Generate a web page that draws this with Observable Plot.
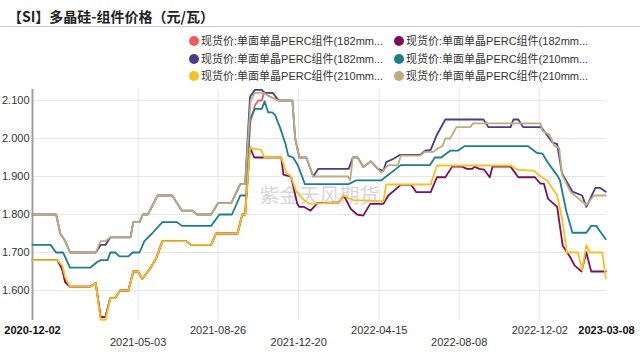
<!DOCTYPE html>
<html><head><meta charset="utf-8">
<script src="https://cdn.jsdelivr.net/npm/d3@7"></script>
<script src="https://cdn.jsdelivr.net/npm/@observablehq/plot@0.6"></script>
<style>
body{margin:0;background:#fff;font-family:"Liberation Sans",Arial,"Noto Sans CJK SC",sans-serif;}
#wrap{position:relative;width:640px;height:359px;overflow:hidden;background:#fff}
#title{position:absolute;left:8px;top:6px;font-size:14px;font-weight:bold;color:#222;font-family:"Noto Sans CJK SC","Liberation Sans",sans-serif;line-height:20px;white-space:nowrap}
#rule{position:absolute;left:0;top:26px;width:640px;height:1px;background:#ccc}
.lg{position:absolute;font-size:11px;color:#333;line-height:14px;white-space:nowrap;font-family:"Liberation Sans",Arial,"Noto Sans CJK SC",sans-serif}
.lg i{display:inline-block;width:10px;height:10px;border-radius:50%;vertical-align:-1px;margin-right:2px}
#chart{position:absolute;left:0;top:86px}
</style></head>
<body><div id="wrap"><div id="title"></div><div id="rule"></div><div id="legend"></div><div id="chart"></div></div>
<script>
const titleText = "【SI】多晶硅-组件价格（元/瓦）";
const watermark = "紫金天风期货";
const seriesNames = [
  "现货价:单面单晶PERC组件(182mm...",
  "现货价:单面单晶PERC组件(182mm...",
  "现货价:单面单晶PERC组件(182mm...",
  "现货价:单面单晶PERC组件(210mm...",
  "现货价:单面单晶PERC组件(210mm...",
  "现货价:单面单晶PERC组件(210mm..."
];
const seriesColors = ["#f05a60", "#7d0f5a", "#483d8b", "#1b7f8b", "#f8c21d", "#bcac7e"];
const tickDates = ["2020-12-02","2021-05-03","2021-08-26","2021-12-20","2022-04-15","2022-08-08","2022-12-02","2023-03-08"];
const yTicks = [1.6, 1.7, 1.8, 1.9, 2.0, 2.1];

const redSeries = [["2020-12-02",1.68],["2021-01-07",1.68],["2021-01-14",1.655],["2021-01-18",1.622],["2021-01-25",1.61],["2021-02-23",1.61],["2021-03-03",1.62],["2021-03-10",1.53],["2021-03-17",1.53],["2021-03-24",1.58],["2021-03-31",1.58],["2021-04-07",1.60],["2021-04-19",1.60],["2021-04-26",1.65],["2021-05-03",1.65],["2021-05-09",1.63],["2021-05-20",1.657],["2021-05-29",1.685],["2021-06-07",1.73],["2021-07-11",1.73],["2021-07-18",1.72],["2021-08-16",1.72],["2021-08-23",1.75],["2021-09-23",1.75],["2021-09-30",1.80],["2021-10-04",1.80],["2021-10-11",2.04],["2021-10-18",2.087],["2021-10-23",2.10],["2021-10-28",2.10],["2021-10-31",2.12],["2021-11-09",2.11],["2021-11-21",2.10]];

const maroonSeries = [["2020-12-02",1.68],["2021-01-07",1.68],["2021-01-14",1.655],["2021-01-18",1.622],["2021-01-25",1.61],["2021-02-23",1.61],["2021-03-03",1.62],["2021-03-10",1.53],["2021-03-17",1.53],["2021-03-24",1.58],["2021-03-31",1.58],["2021-04-07",1.60],["2021-04-19",1.60],["2021-04-26",1.65],["2021-05-03",1.65],["2021-05-09",1.63],["2021-05-20",1.657],["2021-05-29",1.685],["2021-06-07",1.73],["2021-07-11",1.73],["2021-07-18",1.72],["2021-08-16",1.72],["2021-08-23",1.75],["2021-09-23",1.75],["2021-09-30",1.80],["2021-10-04",1.80],["2021-10-11",1.977],["2021-10-17",1.95],["2021-11-25",1.95],["2021-11-28",1.905],["2021-12-09",1.90],["2021-12-18",1.828],["2021-12-21",1.82],["2021-12-28",1.82],["2022-01-06",1.81],["2022-01-16",1.83],["2022-02-16",1.832],["2022-02-23",1.85],["2022-03-05",1.815],["2022-03-14",1.80],["2022-03-23",1.797],["2022-04-02",1.828],["2022-04-21",1.828],["2022-04-28",1.85],["2022-05-16",1.878],["2022-05-31",1.878],["2022-06-07",1.859],["2022-06-28",1.859],["2022-07-07",1.898],["2022-07-19",1.898],["2022-07-29",1.926],["2022-08-12",1.926],["2022-08-19",1.92],["2022-08-27",1.92],["2022-08-30",1.926],["2022-09-06",1.92],["2022-09-13",1.918],["2022-09-21",1.898],["2022-09-25",1.926],["2022-10-21",1.926],["2022-11-01",1.898],["2022-11-25",1.898],["2022-12-03",1.881],["2022-12-08",1.881],["2022-12-14",1.841],["2022-12-27",1.82],["2023-01-04",1.718],["2023-01-14",1.69],["2023-01-21",1.666],["2023-01-31",1.65],["2023-02-07",1.70],["2023-02-14",1.65],["2023-03-07",1.65]];

const indigoSeries = [["2020-12-02",1.80],["2021-01-05",1.80],["2021-01-11",1.75],["2021-01-18",1.73],["2021-01-25",1.70],["2021-03-03",1.70],["2021-03-10",1.72],["2021-03-17",1.72],["2021-03-24",1.74],["2021-04-22",1.74],["2021-04-26",1.78],["2021-05-05",1.78],["2021-05-10",1.80],["2021-05-17",1.80],["2021-05-31",1.85],["2021-06-21",1.85],["2021-07-05",1.81],["2021-07-20",1.81],["2021-07-27",1.80],["2021-08-16",1.80],["2021-08-26",1.83],["2021-09-14",1.83],["2021-09-27",1.88],["2021-10-04",1.88],["2021-10-11",2.11],["2021-10-18",2.128],["2021-10-28",2.128],["2021-11-01",2.12],["2021-11-13",2.12],["2021-11-19",2.105],["2021-11-22",2.10],["2021-12-11",2.10],["2021-12-15",2.00],["2021-12-21",1.95],["2021-12-31",1.95],["2022-01-10",1.90],["2022-01-17",1.92],["2022-03-02",1.92],["2022-03-08",1.95],["2022-03-15",1.95],["2022-03-23",1.925],["2022-04-03",1.94],["2022-04-13",1.92],["2022-04-21",1.915],["2022-04-25",1.938],["2022-05-05",1.946],["2022-05-15",1.957],["2022-06-13",1.957],["2022-06-20",1.968],["2022-06-28",1.97],["2022-07-07",2.01],["2022-07-19",2.05],["2022-09-12",2.05],["2022-09-19",2.03],["2022-10-21",2.03],["2022-10-25",2.05],["2022-11-01",2.05],["2022-11-08",2.03],["2022-12-03",2.03],["2022-12-06",2.025],["2022-12-20",1.99],["2022-12-27",1.985],["2023-01-03",1.908],["2023-01-18",1.86],["2023-02-01",1.85],["2023-02-07",1.82],["2023-02-20",1.87],["2023-02-27",1.87],["2023-03-07",1.86]];

const tealSeries = [["2020-12-02",1.72],["2020-12-28",1.72],["2021-01-05",1.70],["2021-01-15",1.70],["2021-01-25",1.66],["2021-02-23",1.66],["2021-03-05",1.675],["2021-03-10",1.68],["2021-03-20",1.68],["2021-03-24",1.70],["2021-03-31",1.70],["2021-04-06",1.69],["2021-04-19",1.69],["2021-04-25",1.70],["2021-05-05",1.70],["2021-05-12",1.73],["2021-05-23",1.75],["2021-06-07",1.78],["2021-06-28",1.78],["2021-07-05",1.77],["2021-08-16",1.77],["2021-08-28",1.80],["2021-09-15",1.80],["2021-09-27",1.85],["2021-10-06",1.85],["2021-10-11",2.05],["2021-10-18",2.078],["2021-10-28",2.078],["2021-11-01",2.098],["2021-11-06",2.069],["2021-11-12",2.069],["2021-11-16",2.062],["2021-11-23",2.03],["2021-12-01",1.986],["2021-12-05",1.955],["2021-12-12",1.95],["2021-12-19",1.929],["2021-12-29",1.88],["2022-03-02",1.88],["2022-03-13",1.89],["2022-04-18",1.89],["2022-05-16",1.93],["2022-06-27",1.93],["2022-07-04",1.95],["2022-07-13",1.95],["2022-07-26",1.968],["2022-08-06",1.968],["2022-08-16",1.98],["2022-11-15",1.98],["2022-11-28",1.962],["2022-12-06",1.96],["2022-12-13",1.938],["2022-12-27",1.903],["2022-12-31",1.89],["2023-01-09",1.81],["2023-01-18",1.752],["2023-02-07",1.752],["2023-02-14",1.77],["2023-02-21",1.77],["2023-03-07",1.735]];

const yellowSeries = [["2020-12-02",1.68],["2021-01-07",1.68],["2021-01-14",1.665],["2021-01-18",1.635],["2021-01-25",1.61],["2021-02-23",1.61],["2021-03-03",1.62],["2021-03-10",1.523],["2021-03-17",1.523],["2021-03-24",1.58],["2021-03-31",1.58],["2021-04-07",1.60],["2021-04-19",1.60],["2021-04-26",1.65],["2021-05-03",1.65],["2021-05-09",1.63],["2021-05-20",1.657],["2021-05-29",1.685],["2021-06-07",1.73],["2021-07-11",1.73],["2021-07-18",1.72],["2021-08-16",1.72],["2021-08-23",1.75],["2021-09-23",1.75],["2021-09-30",1.80],["2021-10-04",1.80],["2021-10-11",1.975],["2021-10-27",1.97],["2021-11-01",1.95],["2021-11-25",1.95],["2021-12-02",1.911],["2021-12-09",1.90],["2021-12-16",1.863],["2021-12-26",1.841],["2022-01-04",1.828],["2022-02-16",1.832],["2022-02-23",1.85],["2022-03-02",1.843],["2022-03-09",1.838],["2022-04-21",1.835],["2022-04-25",1.879],["2022-06-28",1.879],["2022-07-07",1.929],["2022-10-21",1.929],["2022-10-31",1.918],["2022-11-24",1.915],["2022-12-03",1.90],["2022-12-13",1.889],["2022-12-20",1.87],["2022-12-27",1.85],["2023-01-03",1.79],["2023-01-10",1.70],["2023-01-26",1.70],["2023-02-01",1.653],["2023-02-07",1.72],["2023-02-12",1.70],["2023-03-02",1.70],["2023-03-07",1.632]];

const khakiSeries = [["2020-12-02",1.80],["2021-01-05",1.80],["2021-01-11",1.75],["2021-01-18",1.73],["2021-01-25",1.70],["2021-03-03",1.70],["2021-03-10",1.73],["2021-03-17",1.73],["2021-03-24",1.74],["2021-04-22",1.74],["2021-04-26",1.78],["2021-05-05",1.78],["2021-05-10",1.80],["2021-05-17",1.80],["2021-05-31",1.85],["2021-06-21",1.85],["2021-07-05",1.81],["2021-07-20",1.81],["2021-07-27",1.80],["2021-08-16",1.80],["2021-08-26",1.83],["2021-09-14",1.83],["2021-09-27",1.88],["2021-10-04",1.88],["2021-10-12",2.10],["2021-10-18",2.12],["2021-10-31",2.12],["2021-11-09",2.11],["2021-11-21",2.10],["2021-12-11",2.10],["2021-12-15",2.00],["2021-12-21",1.95],["2021-12-31",1.95],["2022-01-10",1.90],["2022-03-01",1.90],["2022-03-04",1.89],["2022-03-08",1.95],["2022-03-15",1.95],["2022-03-23",1.925],["2022-04-03",1.94],["2022-04-13",1.92],["2022-04-18",1.91],["2022-04-28",1.93],["2022-05-12",1.93],["2022-05-16",1.955],["2022-06-13",1.955],["2022-06-20",1.965],["2022-07-02",1.965],["2022-07-09",1.975],["2022-07-15",1.98],["2022-07-19",2.00],["2022-07-26",2.00],["2022-08-04",2.03],["2022-08-24",2.03],["2022-08-28",2.04],["2022-12-03",2.04],["2022-12-06",2.02],["2022-12-16",2.01],["2022-12-23",1.98],["2022-12-30",1.975],["2023-01-03",1.905],["2023-01-15",1.86],["2023-01-28",1.84],["2023-02-07",1.825],["2023-02-18",1.85],["2023-03-07",1.85]];

const allSeries = [redSeries, maroonSeries, indigoSeries, tealSeries, yellowSeries, khakiSeries];

const parse = d3.utcParse("%Y-%m-%d");
const fontFam = '"Liberation Sans",Arial,"Noto Sans CJK SC",sans-serif';

document.getElementById("title").textContent = titleText;

// legend (row-wise, 2 columns)
const legend = document.getElementById("legend");
const colLeft = [189, 394];
const rowTop = [34, 52, 69];
seriesNames.forEach((name, i) => {
  const el = document.createElement("div");
  el.className = "lg";
  el.style.left = colLeft[i % 2] + "px";
  el.style.top = rowTop[Math.floor(i / 2)] + "px";
  el.innerHTML = `<i style="background:${seriesColors[i]}"></i>`;
  el.appendChild(document.createTextNode(name));
  legend.appendChild(el);
});

const rows = allSeries.map((s, i) => s.map(([d, v]) => ({series: i, date: parse(d), value: v})));
const ticks = tickDates.map(parse);
const last = ticks.length - 1;
const row1 = ticks.filter((d, i) => i % 2 === 0 && i !== 0 && i !== last);
const row2 = ticks.filter((d, i) => i % 2 === 1 && i !== last);
const boldTicks = [ticks[0], ticks[last]];
const fmt = d3.utcFormat("%Y-%m-%d");

const chart = Plot.plot({
  width: 640,
  height: 273,
  marginLeft: 32,
  marginRight: 34,
  marginTop: 3,
  marginBottom: 39,
  style: {fontFamily: fontFam, background: "transparent"},
  x: {type: "utc", domain: [ticks[0], ticks[last]], axis: null},
  y: {domain: [1.521, 2.129], axis: null},
  marks: [
    Plot.gridY(yTicks, {stroke: "#e6e6e6", strokeOpacity: 1}),
    Plot.gridX(ticks.slice(1, -1), {stroke: "#e6e6e6", strokeOpacity: 1}),
    Plot.text([watermark], {frameAnchor: "middle", dy: -8, fontSize: 20, fill: "#d6d6d6", fontFamily: '"Noto Sans CJK SC",sans-serif'}),
    Plot.ruleX([ticks[0]], {stroke: "#a0a0a0", strokeWidth: 2}),
    Plot.axisY(yTicks, {tickSize: 0, tickPadding: 3, tickFormat: d3.format(".3f"), fontSize: 11, fill: "#333", anchor: "left", label: null}),
    ...rows.map((r, i) => Plot.line(r, {x: "date", y: "value", stroke: seriesColors[i], strokeWidth: 1.8, strokeLinejoin: "round"})),
    Plot.text(row1, {x: d => d, frameAnchor: "bottom", dy: 10, text: d => fmt(d), fontSize: 11, fill: "#333", lineAnchor: "middle"}),
    Plot.text(row2, {x: d => d, frameAnchor: "bottom", dy: 22, text: d => fmt(d), fontSize: 11, fill: "#333", lineAnchor: "middle"}),
    Plot.text(boldTicks, {x: d => d, frameAnchor: "bottom", dy: 10, text: d => fmt(d), fontSize: 11, fontWeight: "bold", fill: "#111", lineAnchor: "middle"})
  ]
});
document.getElementById("chart").appendChild(chart);
</script></body></html>
